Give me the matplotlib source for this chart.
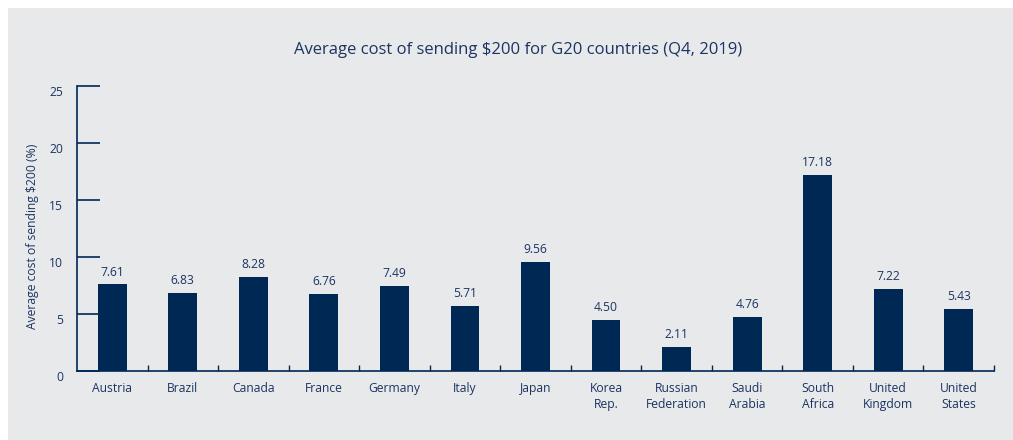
import matplotlib
matplotlib.use("Agg")
import matplotlib.pyplot as plt
import matplotlib.transforms as mtransforms
from matplotlib.patches import Rectangle
import numpy as np

countries = ["Austria", "Brazil", "Canada", "France", "Germany", "Italy", "Japan",
             "Korea\nRep.", "Russian\nFederation", "Saudi\nArabia", "South\nAfrica",
             "United\nKingdom", "United\nStates"]
costs = [7.61, 6.83, 8.28, 6.76, 7.49, 5.71, 9.56, 4.50, 2.11, 4.76, 17.18, 7.22, 5.43]
yticks = [0, 5, 10, 15, 20, 25]
title = "Average cost of sending $200 for G20 countries (Q4, 2019)"
ylabel = "Average cost of sending $200 (%)"

navy = "#002855"
text_c = "#1c3461"
bg = "#e8e9eb"

plt.rcParams['font.family'] = ['Open Sans', 'DejaVu Sans']

W, H = 1013, 440
fig = plt.figure(figsize=(W/100, H/100), dpi=100, facecolor="white")
fig.patches.append(Rectangle((8/W, 0), 1, 1 - 8/H, transform=fig.transFigure,
                             facecolor=bg, edgecolor="none", zorder=-10))

left, right, top, bottom = 77, 994, 86, 371
ax = fig.add_axes([left/W, 1 - bottom/H, (right-left)/W, (bottom-top)/H])
ax.set_facecolor("none")

x = np.arange(len(countries))
bars = ax.bar(x, costs, width=0.41, color=navy, zorder=3)
for xi, v in zip(x, costs):
    ax.text(xi, v + 0.5, f"{v:.2f}", ha="center", va="bottom", fontsize=8.7, color=text_c)

ax.set_xlim(-0.5, len(countries) - 0.5)
ax.set_ylim(0, 25)
ax.set_yticks(yticks)
ax.set_yticklabels([str(t) for t in yticks])
ax.tick_params(axis="y", direction="in", length=16.5, width=1.2, color=navy,
               labelsize=8.7, labelcolor=text_c, pad=10)
offset = mtransforms.ScaledTranslation(0, -5/100, fig.dpi_scale_trans)
for lbl in ax.get_yticklabels():
    lbl.set_transform(lbl.get_transform() + offset)
ax.set_xticks(x)
ax.set_xticklabels(countries)
ax.tick_params(axis="x", which="major", length=0, labelsize=8.7, labelcolor=text_c, pad=8)
ax.set_xticks(np.arange(0.5, len(countries), 1.0), minor=True)
ax.tick_params(axis="x", which="minor", direction="in", length=4, width=1, color=navy)
for lbl in ax.get_xticklabels():
    lbl.set_linespacing(1.3)

for s in ["top", "right"]:
    ax.spines[s].set_visible(False)
for s in ["left", "bottom"]:
    ax.spines[s].set_color(navy)
    ax.spines[s].set_linewidth(1.2)

fig.text(518/W, 1 - 50/H, title, ha="center", va="center", fontsize=12, color=text_c)
fig.text(33/W, 1 - 236/H, ylabel, ha="center", va="center", rotation=90,
         fontsize=8.7, color=text_c)

fig.savefig("out.png", dpi=100, facecolor="white")
